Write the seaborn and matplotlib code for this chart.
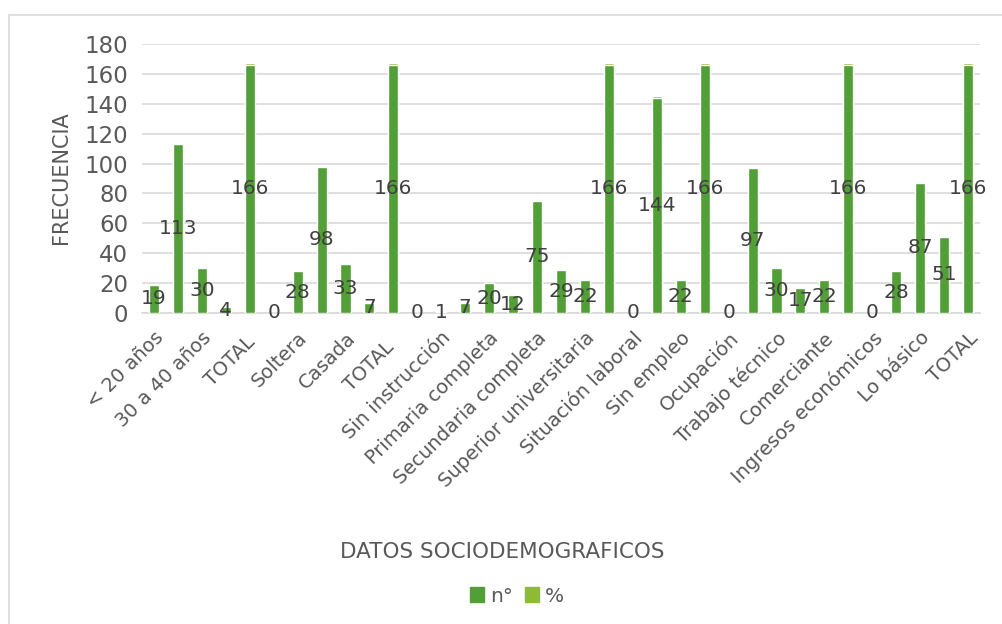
import matplotlib
matplotlib.use("Agg")
import matplotlib.pyplot as plt
from matplotlib.patches import Rectangle
import seaborn as sns
import pandas as pd

# Socio-demographic groups (every other label is shown on the axis)
categories = [
    "< 20 años", "20 a 30 años", "30 a 40 años", "> 40 años", "TOTAL ",
    "Estado civil", "Soltera", "Conviviente", "Casada", "Viuda", "TOTAL  ",
    "Grado de instrucción", "Sin instrucción", "Primaria incompleta",
    "Primaria completa", "Secundaria incompleta", "Secundaria completa",
    "Superior técnico", "Superior universitaria", "TOTAL   ",
    "Situación laboral", "Con empleo", "Sin empleo", "TOTAL    ",
    "Ocupación", "Ama de casa", "Trabajo técnico", "Estudiante",
    "Comerciante", "TOTAL     ",
    "Ingresos económicos", "Menos del básico", "Lo básico",
    "Más del básico", "TOTAL",
]
n_values = [
    19, 113, 30, 4, 166,
    0, 28, 98, 33, 7, 166,
    0, 1, 7, 20, 12, 75, 29, 22, 166,
    0, 144, 22, 166,
    0, 97, 30, 17, 22, 166,
    0, 28, 87, 51, 166,
]
pct_values = [
    0.11, 0.68, 0.18, 0.02, 1.00,
    0.00, 0.17, 0.59, 0.20, 0.04, 1.00,
    0.00, 0.01, 0.04, 0.12, 0.07, 0.45, 0.17, 0.13, 1.00,
    0.00, 0.87, 0.13, 1.00,
    0.00, 0.58, 0.18, 0.10, 0.13, 1.00,
    0.00, 0.17, 0.52, 0.31, 1.00,
]

df = pd.DataFrame({"cat": categories, "n": n_values, "pct": pct_values})
df["stack"] = df["n"] + df["pct"]

DARK = "#529E37"
LIGHT = "#8DBB33"
TEXT = "#595959"
GRID = "#D9D9D9"

sns.set_theme(style="white")
plt.rcParams["font.family"] = ["DejaVu Sans"]

fig = plt.figure(figsize=(10.02, 6.24), dpi=100)
ax = fig.add_axes([142 / 1002, 1 - 313 / 624, (980 - 142) / 1002, (313 - 44) / 624])

# stacked bars: the % segment sits on top of n°
sns.barplot(data=df, x="cat", y="stack", color=LIGHT, width=0.42,
            saturation=1, ax=ax, order=categories, zorder=3)
sns.barplot(data=df, x="cat", y="n", color=DARK, width=0.42,
            saturation=1, ax=ax, order=categories, zorder=4)

# centered value labels for n°
for i, v in enumerate(n_values):
    ax.text(i, v / 2, f"{v}", ha="center", va="center",
            fontsize=14.5, color="#404040", zorder=5)

ax.set_ylim(0, 180)
ax.set_xlim(-0.5, len(categories) - 0.5)
ax.set_yticks(range(0, 181, 20))
ax.yaxis.grid(True, color=GRID, lw=1.2, zorder=0)
ax.xaxis.grid(False)
for s in ["top", "right", "left"]:
    ax.spines[s].set_visible(False)
ax.spines["bottom"].set_color(GRID)
ax.spines["bottom"].set_linewidth(1.2)
ax.spines["bottom"].set_zorder(2)

ax.tick_params(axis="both", length=0, colors=TEXT)
ax.tick_params(axis="y", pad=10, labelsize=16.5)
ax.tick_params(axis="x", pad=11, labelsize=14)
ax.set_xticks(range(len(categories)))
ax.set_xticklabels(categories, rotation=45, ha="right",
                   rotation_mode="anchor", color=TEXT)
for i, lab in enumerate(ax.get_xticklabels()):
    if i % 2 == 1:
        lab.set_visible(False)

ax.set_xlabel("")
ax.set_ylabel("")
fig.text(61 / 1002, 1 - 178 / 624, "FRECUENCIA", rotation=90,
         ha="center", va="center", fontsize=15, color=TEXT)
fig.text(502 / 1002, 1 - 552 / 624, "DATOS SOCIODEMOGRAFICOS",
         ha="center", va="center", fontsize=15.5, color=TEXT)

handles = [Rectangle((0, 0), 1, 1, color=DARK), Rectangle((0, 0), 1, 1, color=LIGHT)]
fig.legend(handles, ["n°", "%"], loc="center", bbox_to_anchor=(517 / 1002, 1 - 596 / 624),
           ncol=2, frameon=False, fontsize=14.5, handlelength=0.7, handleheight=0.7,
           handletextpad=0.3, columnspacing=0.6, labelcolor=TEXT)

# chart frame (left and top edges fall inside the canvas)
fig.add_artist(Rectangle((9 / 1002, -0.2), 1.2, 1.2 - 15 / 624, transform=fig.transFigure,
                         fill=False, ec=GRID, lw=1.2))

fig.savefig("out.png", dpi=100, facecolor="white")
